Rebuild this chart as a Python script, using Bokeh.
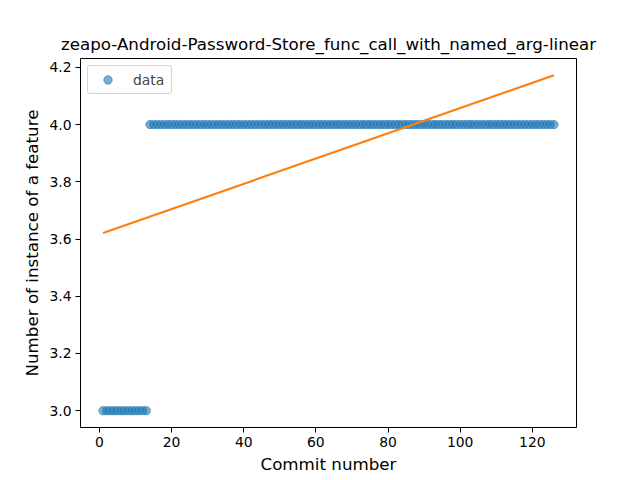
from bokeh.plotting import figure
from bokeh.models import Range1d, FixedTicker, PrintfTickFormatter, Legend, LegendItem
from bokeh.embed import file_html
from bokeh.resources import INLINE

commit = [1, 2, 3, 4, 5, 6, 7, 8, 9, 10, 11, 12, 13, 14, 15, 16, 17, 18, 19, 20,
          21, 22, 23, 24, 25, 26, 27, 28, 29, 30, 31, 32, 33, 34, 35, 36, 37, 38, 39, 40,
          41, 42, 43, 44, 45, 46, 47, 48, 49, 50, 51, 52, 53, 54, 55, 56, 57, 58, 59, 60,
          61, 62, 63, 64, 65, 66, 67, 68, 69, 70, 71, 72, 73, 74, 75, 76, 77, 78, 79, 80,
          81, 82, 83, 84, 85, 86, 87, 88, 89, 90, 91, 92, 93, 94, 95, 96, 97, 98, 99, 100,
          101, 102, 103, 104, 105, 106, 107, 108, 109, 110, 111, 112, 113, 114, 115, 116,
          117, 118, 119, 120, 121, 122, 123, 124, 125, 126]
count = [3, 3, 3, 3, 3, 3, 3, 3, 3, 3, 3, 3, 3, 4, 4, 4, 4, 4, 4, 4,
         4, 4, 4, 4, 4, 4, 4, 4, 4, 4, 4, 4, 4, 4, 4, 4, 4, 4, 4, 4,
         4, 4, 4, 4, 4, 4, 4, 4, 4, 4, 4, 4, 4, 4, 4, 4, 4, 4, 4, 4,
         4, 4, 4, 4, 4, 4, 4, 4, 4, 4, 4, 4, 4, 4, 4, 4, 4, 4, 4, 4,
         4, 4, 4, 4, 4, 4, 4, 4, 4, 4, 4, 4, 4, 4, 4, 4, 4, 4, 4, 4,
         4, 4, 4, 4, 4, 4, 4, 4, 4, 4, 4, 4, 4, 4, 4, 4,
         4, 4, 4, 4, 4, 4, 4, 4, 4, 4]
fit_x = [1, 126]
fit_y = [3.621, 4.172]

x_ticks = [0, 20, 40, 60, 80, 100, 120]
y_ticks = [3.0, 3.2, 3.4, 3.6, 3.8, 4.0, 4.2]

FONT = "DejaVu Sans"

p = figure(width=640, height=480, output_backend="svg", toolbar_location=None,
           x_range=Range1d(-5.25, 132.25), y_range=Range1d(2.9414, 4.2308),
           title="zeapo-Android-Password-Store_func_call_with_named_arg-linear",
           frame_width=496, frame_height=369,
           min_border_left=80, min_border_right=64, min_border_top=58, min_border_bottom=53)

p.title.text_font = FONT
p.title.text_font_size = "16.7px"
p.title.text_font_style = "normal"
p.title.align = "center"
p.title.text_color = "black"

p.xgrid.visible = False
p.ygrid.visible = False
p.outline_line_color = "black"
p.outline_line_width = 1
p.background_fill_color = "white"
p.border_fill_color = "white"

for ax in (p.xaxis[0], p.yaxis[0]):
    ax.axis_line_color = None
    ax.major_tick_in = 0
    ax.major_tick_out = 5
    ax.minor_tick_line_color = None
    ax.major_tick_line_color = "black"
    ax.major_label_text_font = FONT
    ax.major_label_text_font_size = "13.9px"
    ax.major_label_text_color = "black"
    ax.axis_label_text_font = FONT
    ax.axis_label_text_font_size = "16.7px"
    ax.axis_label_text_font_style = "normal"
    ax.axis_label_text_color = "black"
    ax.major_label_standoff = 4
    ax.axis_label_standoff = 4

p.xaxis.ticker = FixedTicker(ticks=x_ticks)
p.yaxis.ticker = FixedTicker(ticks=y_ticks)
p.yaxis.formatter = PrintfTickFormatter(format="%.1f")
p.xaxis.axis_label = "Commit number"
p.yaxis.axis_label = "Number of instance of a feature"

pts = p.scatter(commit, count, size=8.3, marker="circle",
                fill_color="#1f77b4", fill_alpha=0.6,
                line_color="#1f77b4", line_alpha=0.6, line_width=1)
p.line(fit_x, fit_y, line_color="#ff7f0e", line_width=2.1)

legend = Legend(items=[LegendItem(label="data", renderers=[pts])],
                location="top_left")
legend.label_text_font = FONT
legend.label_text_font_size = "13.9px"
legend.border_line_color = "#cccccc"
legend.border_line_alpha = 0.8
legend.border_radius = 3
legend.background_fill_alpha = 0.8
legend.margin = 7
legend.padding = 3
legend.spacing = 0
legend.glyph_width = 33
legend.glyph_height = 21
legend.label_height = 21
legend.label_width = 35
legend.label_standoff = 9
p.add_layout(legend)

open("out.html", "w").write(file_html(p, INLINE))
